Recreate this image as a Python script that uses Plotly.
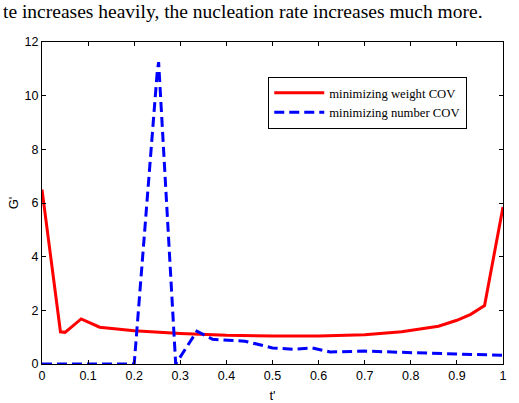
import plotly.graph_objects as go

# Red: minimizing weight COV
t_weight = [0, 0.04, 0.05, 0.085, 0.125, 0.2, 0.3, 0.4, 0.5, 0.6, 0.7, 0.78, 0.86, 0.9, 0.93, 0.96, 1.0]
g_weight = [6.5, 1.2, 1.18, 1.68, 1.37, 1.24, 1.14, 1.07, 1.04, 1.04, 1.09, 1.2, 1.41, 1.63, 1.85, 2.18, 5.85]

# Blue: minimizing number COV
t_number = [0, 0.2, 0.25, 0.253, 0.29, 0.336, 0.37, 0.44, 0.5, 0.545, 0.585, 0.625, 0.7, 0.8, 0.9, 1.0]
g_number = [0, 0, 10.9, 11.25, 0, 1.22, 0.92, 0.85, 0.6, 0.55, 0.6, 0.45, 0.48, 0.42, 0.37, 0.33]

x_ticks = [0, 0.1, 0.2, 0.3, 0.4, 0.5, 0.6, 0.7, 0.8, 0.9, 1]
x_ticktext = ["0", "0.1", "0.2", "0.3", "0.4", "0.5", "0.6", "0.7", "0.8", "0.9", "1"]
y_ticks = [0, 2, 4, 6, 8, 10, 12]

fig = go.Figure()
fig.add_trace(go.Scatter(x=t_weight, y=g_weight, mode="lines", name="minimizing weight COV",
                         line=dict(color="#ff0000", width=3)))
fig.add_trace(go.Scatter(x=t_number, y=g_number, mode="lines", name="minimizing number COV",
                         line=dict(color="#0000ff", width=3, dash="10px,5px")))

axis_common = dict(showline=True, linecolor="black", linewidth=1, mirror="ticks",
                   ticks="inside", ticklen=4, tickcolor="black", showgrid=False, zeroline=False,
                   automargin=False,
                   tickfont=dict(family="Liberation Sans", size=12.5, color="black"))

fig.update_xaxes(range=[0, 1], tickvals=x_ticks, ticktext=x_ticktext,
                 title=dict(text="t'", font=dict(family="Liberation Sans", size=13, color="black"), standoff=8),
                 **axis_common)
fig.update_yaxes(range=[0, 12], tickvals=y_ticks,
                 title=dict(text="G'", font=dict(family="Liberation Sans", size=13, color="black"), standoff=3),
                 **axis_common)

fig.update_layout(
    width=519, height=403,
    margin=dict(l=41.5, r=16, t=42, b=39),
    paper_bgcolor="white", plot_bgcolor="white",
    showlegend=True,
    legend=dict(x=(268 - 41.5) / 461.5, y=(364 - 77) / 322, xanchor="left", yanchor="top",
                bordercolor="black", borderwidth=1, bgcolor="white",
                font=dict(family="Liberation Serif", size=12.7, color="black"),
                itemwidth=50, tracegroupgap=0),
    annotations=[dict(text="te increases heavily, the nucleation rate increases much more.",
                      xref="paper", yref="paper", x=-41.5 / 461.5, y=1 + 30 / 322,
                      xanchor="left", yanchor="middle", showarrow=False,
                      font=dict(family="Liberation Serif", size=19.5, color="black"))],
)

fig.write_html("out.html")
